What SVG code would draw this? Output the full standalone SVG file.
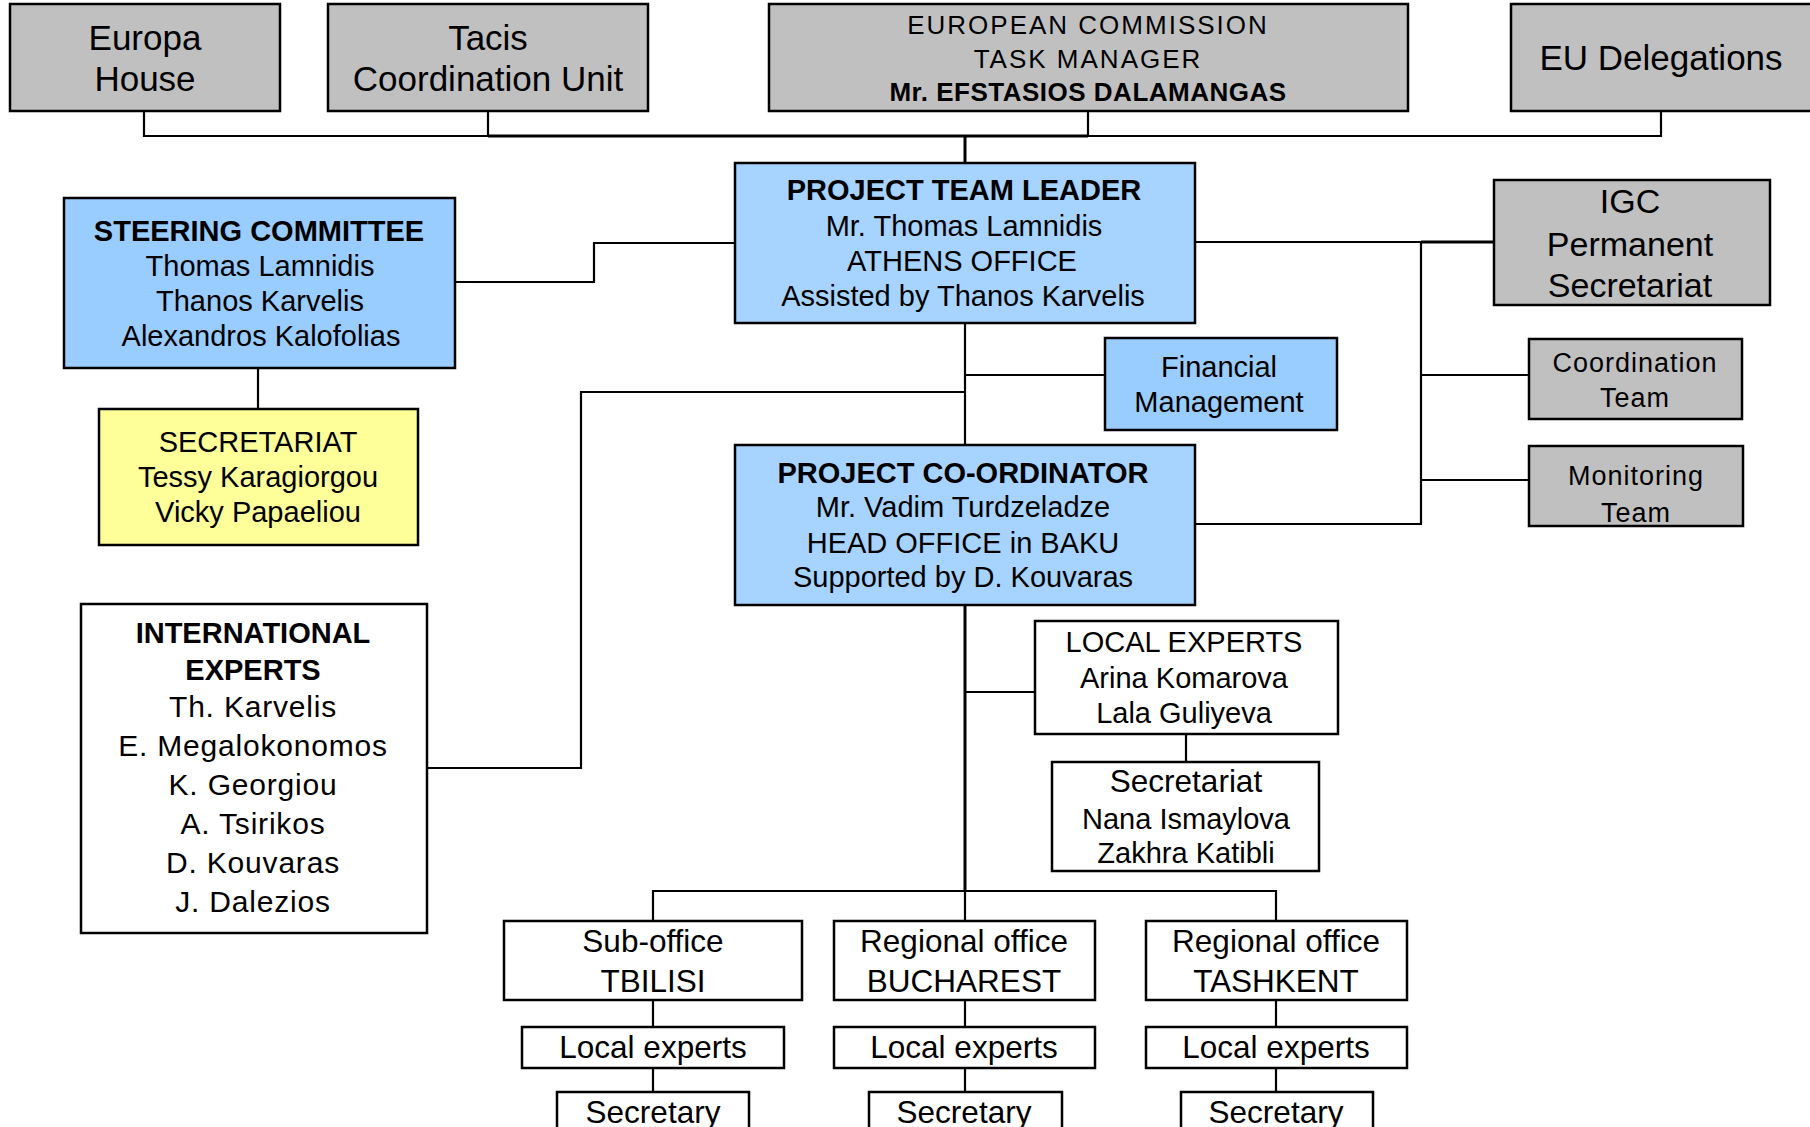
<svg xmlns="http://www.w3.org/2000/svg" width="1810" height="1127" viewBox="0 0 1810 1127">
<style>
text{font-family:"Liberation Sans",Arial,sans-serif;fill:#000;text-anchor:middle}
.box{stroke:#000;stroke-width:2.5}
.gray{fill:#c0c0c0}
.blue{fill:#99ccff}
.lblue{fill:#a6d3ff}
.yel{fill:#ffff99}
.wht{fill:#fff}
.ln{fill:none;stroke:#000;stroke-width:2.2}
.thick{stroke-width:3}
.f35{font-size:35px}
.f29{font-size:29px}
.f34{font-size:34px}
.f31{font-size:31.5px}
.b{font-weight:bold}
.ec{font-size:26px;letter-spacing:2px}
.ecb{font-size:26px;font-weight:bold;letter-spacing:0.5px}
.ct{font-size:27px;letter-spacing:1px}
.ie{font-size:30px;letter-spacing:0.8px}
</style>
<rect width="1810" height="1127" fill="#fff"/>
<g id="connectors">
<polyline class="ln" points="144,111 144,136 1661,136 1661,111"/>
<line class="ln" x1="488" y1="111" x2="488" y2="136"/>
<line class="ln" x1="1088" y1="111" x2="1088" y2="136"/>
<line class="ln thick" x1="488" y1="136" x2="1088" y2="136"/>
<line class="ln thick" x1="965" y1="136" x2="965" y2="163"/>
<polyline class="ln" points="455,282 594,282 594,243 735,243"/>
<line class="ln" x1="258" y1="368" x2="258" y2="409"/>
<line class="ln" x1="1195" y1="242" x2="1494" y2="242"/>
<line class="ln thick" x1="1421" y1="242" x2="1494" y2="242"/>
<polyline class="ln" points="1421,242 1421,524 1195,524"/>
<line class="ln" x1="1421" y1="375" x2="1529" y2="375"/>
<line class="ln" x1="1421" y1="480" x2="1529" y2="480"/>
<line class="ln" x1="965" y1="323" x2="965" y2="445"/>
<line class="ln" x1="965" y1="375" x2="1105" y2="375"/>
<polyline class="ln" points="965,392 581,392 581,768 427,768"/>
<line class="ln thick" x1="965" y1="605" x2="965" y2="891"/>
<line class="ln" x1="965" y1="692" x2="1035" y2="692"/>
<line class="ln" x1="1186" y1="734" x2="1186" y2="762"/>
<polyline class="ln" points="653,921 653,891 1276,891 1276,921"/>
<line class="ln" x1="965" y1="891" x2="965" y2="921"/>
<line class="ln" x1="653" y1="1000" x2="653" y2="1027"/>
<line class="ln" x1="653" y1="1068" x2="653" y2="1092"/>
<line class="ln" x1="965" y1="1000" x2="965" y2="1027"/>
<line class="ln" x1="965" y1="1068" x2="965" y2="1092"/>
<line class="ln" x1="1276" y1="1000" x2="1276" y2="1027"/>
<line class="ln" x1="1276" y1="1068" x2="1276" y2="1092"/>
</g>
<g id="europa-house">
<rect class="box gray" x="10" y="4" width="270" height="107"/>
<text class="f35" x="145" y="50">Europa</text>
<text class="f35" x="145" y="91">House</text>
</g>
<g id="tacis">
<rect class="box gray" x="328" y="4" width="320" height="107"/>
<text class="f35" x="488" y="50">Tacis</text>
<text class="f35" x="488" y="91">Coordination Unit</text>
</g>
<g id="european-commission">
<rect class="box gray" x="769" y="4" width="639" height="107"/>
<text class="ec" x="1088" y="34">EUROPEAN COMMISSION</text>
<text class="ec" x="1088" y="68">TASK MANAGER</text>
<text class="ecb" x="1088" y="101">Mr. EFSTASIOS DALAMANGAS</text>
</g>
<g id="eu-delegations">
<rect class="box gray" x="1511" y="4" width="310" height="107"/>
<text class="f35" x="1661" y="70">EU Delegations</text>
</g>
<g id="steering-committee">
<rect class="box blue" x="64" y="198" width="391" height="170"/>
<text class="f29 b" x="259" y="241">STEERING COMMITTEE</text>
<text class="f29" x="260" y="276">Thomas Lamnidis</text>
<text class="f29" x="260" y="311">Thanos Karvelis</text>
<text class="f29" x="261" y="346">Alexandros Kalofolias</text>
</g>
<g id="secretariat">
<rect class="box yel" x="99" y="409" width="319" height="136"/>
<text class="f29" x="258" y="452">SECRETARIAT</text>
<text class="f29" x="258" y="487">Tessy Karagiorgou</text>
<text class="f29" x="258" y="522">Vicky Papaeliou</text>
</g>
<g id="project-team-leader">
<rect class="box lblue" x="735" y="163" width="460" height="160"/>
<text class="f29 b" x="964" y="200">PROJECT TEAM LEADER</text>
<text class="f29" x="964" y="236">Mr. Thomas Lamnidis</text>
<text class="f29" x="962" y="271">ATHENS OFFICE</text>
<text class="f29" x="963" y="306">Assisted by Thanos Karvelis</text>
</g>
<g id="igc">
<rect class="box gray" x="1494" y="180" width="276" height="125"/>
<text class="f34" x="1630" y="213">IGC</text>
<text class="f34" x="1630" y="256">Permanent</text>
<text class="f34" x="1630" y="297">Secretariat</text>
</g>
<g id="financial-management">
<rect class="box blue" x="1105" y="338" width="232" height="92"/>
<text class="f29" x="1219" y="377">Financial</text>
<text class="f29" x="1219" y="412">Management</text>
</g>
<g id="coordination-team">
<rect class="box gray" x="1529" y="339" width="213" height="80"/>
<text class="ct" x="1635" y="372">Coordination</text>
<text class="ct" x="1635" y="407">Team</text>
</g>
<g id="monitoring-team">
<rect class="box gray" x="1529" y="446" width="214" height="80"/>
<text class="ct" x="1636" y="485">Monitoring</text>
<text class="ct" x="1636" y="522">Team</text>
</g>
<g id="project-coordinator">
<rect class="box lblue" x="735" y="445" width="460" height="160"/>
<text class="f29 b" x="963" y="483">PROJECT CO-ORDINATOR</text>
<text class="f29" x="963" y="517">Mr. Vadim Turdzeladze</text>
<text class="f29" x="963" y="553">HEAD OFFICE in BAKU</text>
<text class="f29" x="963" y="587">Supported by D. Kouvaras</text>
</g>
<g id="international-experts">
<rect class="box wht" x="81" y="604" width="346" height="329"/>
<text class="f29 b" x="253" y="643">INTERNATIONAL</text>
<text class="f29 b" x="253" y="680">EXPERTS</text>
<text class="ie" x="253" y="717">Th. Karvelis</text>
<text class="ie" x="253" y="756">E. Megalokonomos</text>
<text class="ie" x="253" y="795">K. Georgiou</text>
<text class="ie" x="253" y="834">A. Tsirikos</text>
<text class="ie" x="253" y="873">D. Kouvaras</text>
<text class="ie" x="253" y="912">J. Dalezios</text>
</g>
<g id="local-experts">
<rect class="box wht" x="1035" y="621" width="303" height="113"/>
<text class="f29" x="1184" y="652">LOCAL EXPERTS</text>
<text class="f29" x="1184" y="688">Arina Komarova</text>
<text class="f29" x="1184" y="723">Lala Guliyeva</text>
</g>
<g id="secretariat-baku">
<rect class="box wht" x="1052" y="762" width="267" height="109"/>
<text class="f31" x="1186" y="792">Secretariat</text>
<text class="f29" x="1186" y="829">Nana Ismaylova</text>
<text class="f29" x="1186" y="863">Zakhra Katibli</text>
</g>
<g id="sub-office-tbilisi">
<rect class="box wht" x="504" y="921" width="298" height="79"/>
<text class="f31" x="653" y="952">Sub-office</text>
<text class="f31" x="653" y="992">TBILISI</text>
</g>
<g id="regional-office-bucharest">
<rect class="box wht" x="834" y="921" width="261" height="79"/>
<text class="f31" x="964" y="952">Regional office</text>
<text class="f31" x="964" y="992">BUCHAREST</text>
</g>
<g id="regional-office-tashkent">
<rect class="box wht" x="1146" y="921" width="261" height="79"/>
<text class="f31" x="1276" y="952">Regional office</text>
<text class="f31" x="1276" y="992">TASHKENT</text>
</g>
<g id="local-experts-tbilisi">
<rect class="box wht" x="522" y="1027" width="262" height="41"/>
<text class="f31" x="653" y="1058">Local experts</text>
</g>
<g id="local-experts-bucharest">
<rect class="box wht" x="834" y="1027" width="261" height="41"/>
<text class="f31" x="964" y="1058">Local experts</text>
</g>
<g id="local-experts-tashkent">
<rect class="box wht" x="1146" y="1027" width="261" height="41"/>
<text class="f31" x="1276" y="1058">Local experts</text>
</g>
<g id="secretary-tbilisi">
<rect class="box wht" x="557" y="1092" width="192" height="50"/>
<text class="f31" x="653" y="1123">Secretary</text>
</g>
<g id="secretary-bucharest">
<rect class="box wht" x="869" y="1092" width="193" height="50"/>
<text class="f31" x="964" y="1123">Secretary</text>
</g>
<g id="secretary-tashkent">
<rect class="box wht" x="1181" y="1092" width="192" height="50"/>
<text class="f31" x="1276" y="1123">Secretary</text>
</g>
</svg>
